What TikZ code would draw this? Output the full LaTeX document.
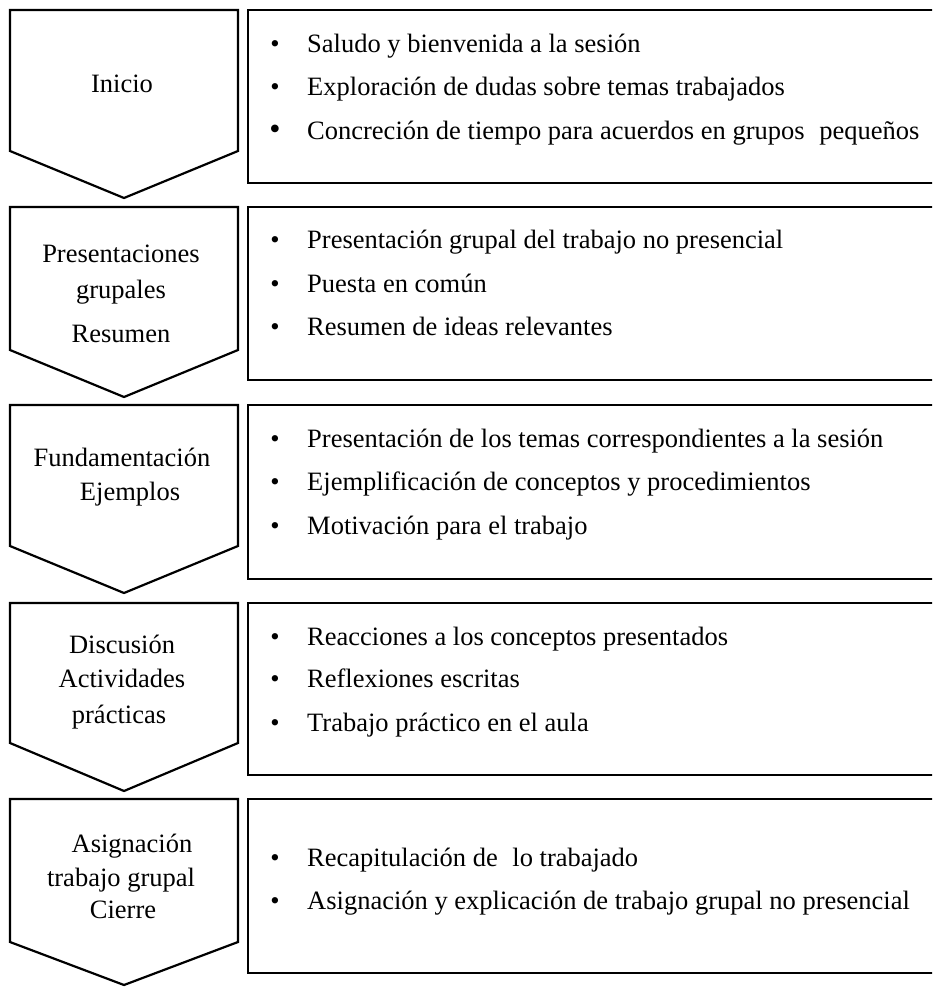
\documentclass[tikz,border=0pt]{standalone}
\usepackage{fontspec}
\setmainfont{Liberation Serif}
\begin{document}
\begin{tikzpicture}[x=1pt,y=-1pt,
  chev/.style={draw=black,line width=2.2pt,line join=miter},
  panel/.style={draw=black,line width=2.2pt},
  lbl/.style={font=\fontsize{26.5}{30}\selectfont,anchor=base,inner sep=0pt},
  item/.style={font=\fontsize{26.5}{30}\selectfont,anchor=base west,inner sep=0pt},
  dotmark/.style={font=\fontsize{26.5}{30}\selectfont,anchor=base,inner sep=0pt}]
\useasboundingbox (0,0) rectangle (932,987);
\clip (0,0) rectangle (932,987);
\fill[white] (0,0) rectangle (932,987);

% ---- stage 1: Inicio (top 10) ----
\draw[chev] (10,10) -- (238,10) -- (238,151) -- (124,198) -- (10,151) -- cycle;
\draw[panel] (248,10) rectangle (950,183);
\node[lbl] (s1) at (122,93) {Inicio};
\node[dotmark] (d1a) at (275,53) {•};
\node[item] (t1a) at (307,53) {Saludo y bienvenida a la sesión};
\node[dotmark] (d1b) at (275,96) {•};
\node[item] (t1b) at (307,96) {Exploración de dudas sobre temas trabajados};
\node[dotmark,font=\fontsize{32}{34}\selectfont] (d1c) at (275,140) {•};
\node[item] (t1c) at (307,140) {Concreción de tiempo para acuerdos en grupos\hspace{0.3em} pequeños};

% ---- stage 2: Presentaciones (top 207) ----
\draw[chev] (10,207) -- (238,207) -- (238,350) -- (124,397) -- (10,350) -- cycle;
\draw[panel] (248,207) rectangle (950,380);
\node[lbl] (s2a) at (121,262) {Presentaciones};
\node[lbl] (s2b) at (121,298) {grupales};
\node[lbl] (s2c) at (121,342) {Resumen};
\node[dotmark] (d2a) at (275,248) {•};
\node[item] (t2a) at (307,248) {Presentación grupal del trabajo no presencial};
\node[dotmark] (d2b) at (275,292) {•};
\node[item] (t2b) at (307,292) {Puesta en común};
\node[dotmark] (d2c) at (275,335) {•};
\node[item] (t2c) at (307,335) {Resumen de ideas relevantes};

% ---- stage 3: Fundamentación (top 405) ----
\draw[chev] (10,405) -- (238,405) -- (238,546) -- (124,593) -- (10,546) -- cycle;
\draw[panel] (248,405) rectangle (950,579);
\node[lbl] (s3a) at (122,466) {Fundamentación};
\node[lbl] (s3b) at (130,500) {Ejemplos};
\node[dotmark] (d3a) at (275,447) {•};
\node[item] (t3a) at (307,447) {Presentación de los temas correspondientes a la sesión};
\node[dotmark] (d3b) at (275,490) {•};
\node[item] (t3b) at (307,490) {Ejemplificación de conceptos y procedimientos};
\node[dotmark] (d3c) at (275,534) {•};
\node[item] (t3c) at (307,534) {Motivación para el trabajo};

% ---- stage 4: Discusión (top 603) ----
\draw[chev] (10,603) -- (238,603) -- (238,743) -- (124,791) -- (10,743) -- cycle;
\draw[panel] (248,603) rectangle (950,775);
\node[lbl] (s4a) at (122,653) {Discusión};
\node[lbl] (s4b) at (122,687) {Actividades};
\node[lbl] (s4c) at (119,723) {prácticas};
\node[dotmark] (d4a) at (275,645) {•};
\node[item] (t4a) at (307,645) {Reacciones a los conceptos presentados};
\node[dotmark] (d4b) at (275,687) {•};
\node[item] (t4b) at (307,687) {Reflexiones escritas};
\node[dotmark] (d4c) at (275,731) {•};
\node[item] (t4c) at (307,731) {Trabajo práctico en el aula};

% ---- stage 5: Asignación / Cierre (top 799) ----
\draw[chev] (10,799) -- (238,799) -- (238,942) -- (124,985) -- (10,942) -- cycle;
\draw[panel] (248,799) rectangle (950,973);
\node[lbl] (s5a) at (132,852) {Asignación};
\node[lbl] (s5b) at (121,886) {trabajo grupal};
\node[lbl] (s5c) at (123,918) {Cierre};
\node[dotmark] (d5a) at (275,866) {•};
\node[item] (t5a) at (307,866) {Recapitulación de\hspace{0.3em} lo trabajado};
\node[dotmark] (d5b) at (275,909) {•};
\node[item] (t5b) at (307,909) {Asignación y explicación de trabajo grupal no presencial};
\end{tikzpicture}
\end{document}
